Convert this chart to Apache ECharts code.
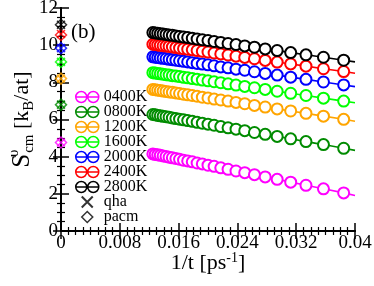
<!DOCTYPE html>
<html>
<head>
<meta charset="utf-8">
<script src="https://cdn.jsdelivr.net/npm/echarts@6/dist/echarts.min.js"></script>
<style>
html,body{margin:0;padding:0;background:#fff;}
#c{width:374px;height:286px;}
</style>
</head>
<body>
<div id="c"></div>
<script>
// ---- data ----
const invTime = [0.01250, 0.01282, 0.01316, 0.01351, 0.01389, 0.01429, 0.01471, 0.01515, 0.01563, 0.01613,
  0.01667, 0.01724, 0.01786, 0.01852, 0.01923, 0.02000, 0.02083, 0.02174, 0.02273, 0.02381,
  0.02500, 0.02632, 0.02778, 0.02941, 0.03125, 0.03333, 0.03571, 0.03846];
const temps = ['0400K', '0800K', '1200K', '1600K', '2000K', '2400K', '2800K'];
const s0400 = [4.15, 4.12, 4.10, 4.07, 4.04, 4.01, 3.97, 3.94, 3.90, 3.86, 3.81, 3.77, 3.72, 3.66, 3.61, 3.54, 3.48, 3.40, 3.32, 3.23, 3.14, 3.03, 2.91, 2.78, 2.63, 2.46, 2.27, 2.05];
const s0800 = [6.27, 6.25, 6.22, 6.20, 6.17, 6.15, 6.12, 6.08, 6.05, 6.02, 5.98, 5.94, 5.90, 5.85, 5.80, 5.75, 5.69, 5.62, 5.55, 5.48, 5.40, 5.30, 5.20, 5.09, 4.96, 4.81, 4.65, 4.45];
const s1200 = [7.62, 7.60, 7.58, 7.56, 7.53, 7.51, 7.48, 7.46, 7.43, 7.40, 7.36, 7.33, 7.29, 7.25, 7.20, 7.16, 7.10, 7.05, 6.99, 6.92, 6.85, 6.76, 6.67, 6.57, 6.46, 6.33, 6.18, 6.01];
const s1600 = [8.52, 8.50, 8.48, 8.46, 8.44, 8.41, 8.39, 8.36, 8.34, 8.31, 8.27, 8.24, 8.20, 8.17, 8.12, 8.08, 8.03, 7.98, 7.92, 7.85, 7.78, 7.71, 7.62, 7.52, 7.41, 7.29, 7.15, 6.99];
const s2000 = [9.37, 9.35, 9.33, 9.31, 9.29, 9.27, 9.24, 9.22, 9.19, 9.16, 9.13, 9.10, 9.06, 9.02, 8.98, 8.94, 8.89, 8.83, 8.78, 8.71, 8.65, 8.57, 8.48, 8.39, 8.28, 8.16, 8.02, 7.86];
const s2400 = [10.05, 10.03, 10.01, 9.99, 9.97, 9.95, 9.93, 9.90, 9.87, 9.84, 9.81, 9.78, 9.75, 9.71, 9.67, 9.63, 9.58, 9.53, 9.47, 9.41, 9.34, 9.27, 9.18, 9.09, 8.99, 8.87, 8.73, 8.58];
const s2800 = [10.68, 10.66, 10.64, 10.62, 10.60, 10.58, 10.55, 10.53, 10.50, 10.47, 10.44, 10.41, 10.37, 10.33, 10.29, 10.25, 10.20, 10.15, 10.09, 10.03, 9.96, 9.89, 9.80, 9.71, 9.60, 9.48, 9.35, 9.19];
const fitEndX = 0.04;
const fitEnd = [1.91, 4.34, 5.91, 6.90, 7.77, 8.49, 9.10];
const qhaValues = [4.76, 6.80, 8.20, 9.10, 9.84, 10.60, 11.10];
const pacmValues = [4.76, 6.80, 8.20, 9.10, 9.84, 10.55, 11.10];
const xTickLabels = ['0', '0.008', '0.016', '0.024', '0.032', '0.04'];
const yTickLabels = ['0', '2', '4', '6', '8', '10', '12'];

// ---- style ----
const allSeries = [s0400, s0800, s1200, s1600, s2000, s2400, s2800];
const colors = ['#ff00ff', '#008b00', '#ffa500', '#00ff00', '#0000ff', '#ff0000', '#000000'];
const FF = 'Liberation Serif';
const circleIcon = 'path://M0,5.5 A5.5,5.5 0 1 1 11,5.5 A5.5,5.5 0 1 1 0,5.5 Z M12,5.5 A5.5,5.5 0 1 1 23,5.5 A5.5,5.5 0 1 1 12,5.5 Z M0,5.5 L23,5.5';
const xIcon = 'path://M0,0 L10,10 M10,0 L0,10';
const diamondIcon = 'path://M5,0 L10,5 L5,10 L0,5 Z';

const series = [];
allSeries.forEach((vals, i) => {
  const data = invTime.map((x, j) => [x, vals[j]]);
  data.push({ value: [fitEndX, fitEnd[i]], symbol: 'none' });
  series.push({
    name: temps[i], type: 'line', data: data,
    symbol: 'emptyCircle', symbolSize: 11,
    itemStyle: { color: colors[i], borderColor: colors[i], borderWidth: 1.5 },
    lineStyle: { color: colors[i], width: 1.6 },
    z: 2 + i
  });
});
series.push({
  name: 'qha', type: 'scatter', clip: false, symbol: xIcon, symbolSize: 8,
  itemStyle: { color: '#000' },
  data: qhaValues.map((v, i) => ({ value: [0, v], itemStyle: { color: 'none', borderColor: colors[i], borderWidth: 1.5 } })),
  z: 10
});
series.push({
  name: 'pacm', type: 'scatter', clip: false, symbol: diamondIcon, symbolSize: 11,
  itemStyle: { color: '#000' },
  data: pacmValues.map((v, i) => ({ value: [0, v], itemStyle: { color: 'none', borderColor: colors[i], borderWidth: 1.5 } })),
  z: 10
});

const legendData = temps.map((t, i) => ({
  name: t, icon: circleIcon,
  itemStyle: { color: 'rgba(0,0,0,0)', borderColor: colors[i], borderWidth: 1.5 }
}));
legendData.push({ name: 'qha', icon: xIcon, itemStyle: { color: 'rgba(0,0,0,0)', borderColor: '#000', borderWidth: 2 } });
legendData.push({ name: 'pacm', icon: diamondIcon, itemStyle: { color: 'rgba(0,0,0,0)', borderColor: '#000', borderWidth: 1.5 } });

const axisLine = { show: true, lineStyle: { color: '#000', width: 2 } };
const chart = echarts.init(document.getElementById('c'), null, { renderer: 'canvas' });
chart.setOption({
  animation: false,
  backgroundColor: '#fff',
  grid: { left: 61, right: 19, top: 8, bottom: 55, containLabel: false, outerBoundsMode: 'none' },
  legend: {
    orient: 'vertical', left: 70, top: 84,
    itemWidth: 23, itemHeight: 11, itemGap: -1,
    selectedMode: false,
    textStyle: { fontFamily: FF, fontSize: 16, color: '#000' },
    data: legendData
  },
  graphic: [{
    type: 'text', left: 71, top: 22,
    style: { text: '(b)', font: '21px "Liberation Serif"', fill: '#000' }
  }],
  xAxis: [{
    type: 'value', min: 0, max: 0.04, interval: 0.008,
    axisLine: axisLine,
    axisTick: { show: true, inside: true, length: 8, lineStyle: { color: '#000', width: 1.5 } },
    minorTick: { show: true, splitNumber: 8, length: 4, lineStyle: { color: '#000', width: 1.2 } },
    splitLine: { show: false },
    axisLabel: { fontFamily: FF, fontSize: 19, color: '#000', margin: 3,
      formatter: (v, idx) => xTickLabels[idx] },
    name: '{n|1/t [ps}{sup|-1}{n|]}', nameLocation: 'middle', nameGap: 20, nameMoveOverlap: false,
    nameTextStyle: { rich: {
      n: { fontFamily: FF, fontSize: 22, color: '#000', lineHeight: 24 },
      sup: { fontFamily: FF, fontSize: 14, color: '#000', verticalAlign: 'top', lineHeight: 14 }
    } }
  }, {
    type: 'value', position: 'top', min: 0, max: 0.04, interval: 0.008,
    axisLine: axisLine,
    axisTick: { show: true, inside: true, length: 8, lineStyle: { color: '#000', width: 1.5 } },
    minorTick: { show: true, splitNumber: 8, length: 4, lineStyle: { color: '#000', width: 1.2 } },
    splitLine: { show: false }, axisLabel: { show: false }
  }],
  yAxis: [{
    type: 'value', min: 0, max: 12, interval: 2,
    axisLine: axisLine,
    axisTick: { show: true, inside: true, length: 8, lineStyle: { color: '#000', width: 1.5 } },
    minorTick: { show: true, splitNumber: 4, length: 4, lineStyle: { color: '#000', width: 1.2 } },
    splitLine: { show: false },
    axisLabel: { fontFamily: FF, fontSize: 19, color: '#000', margin: 3,
      formatter: (v, idx) => yTickLabels[idx] },
    name: '{s|S}{sup|υ}{sub|cm}{n| [k}{sub|B}{n|/at]}', nameLocation: 'middle', nameGap: 24, nameRotate: 90, nameMoveOverlap: false,
    nameTextStyle: { rich: {
      s: { fontFamily: FF, fontSize: 25, color: '#000', lineHeight: 30 },
      n: { fontFamily: FF, fontSize: 22, color: '#000', lineHeight: 30 },
      sup: { fontFamily: FF, fontSize: 15, color: '#000', verticalAlign: 'top', lineHeight: 16, width: 1 },
      sub: { fontFamily: FF, fontSize: 15, color: '#000', verticalAlign: 'bottom', lineHeight: 16 }
    } }
  }, {
    type: 'value', position: 'right', min: 0, max: 12, interval: 2,
    axisLine: axisLine,
    axisTick: { show: true, inside: true, length: 8, lineStyle: { color: '#000', width: 1.5 } },
    minorTick: { show: true, splitNumber: 4, length: 4, lineStyle: { color: '#000', width: 1.2 } },
    splitLine: { show: false }, axisLabel: { show: false }
  }],
  series: series
});
</script>
</body>
</html>
